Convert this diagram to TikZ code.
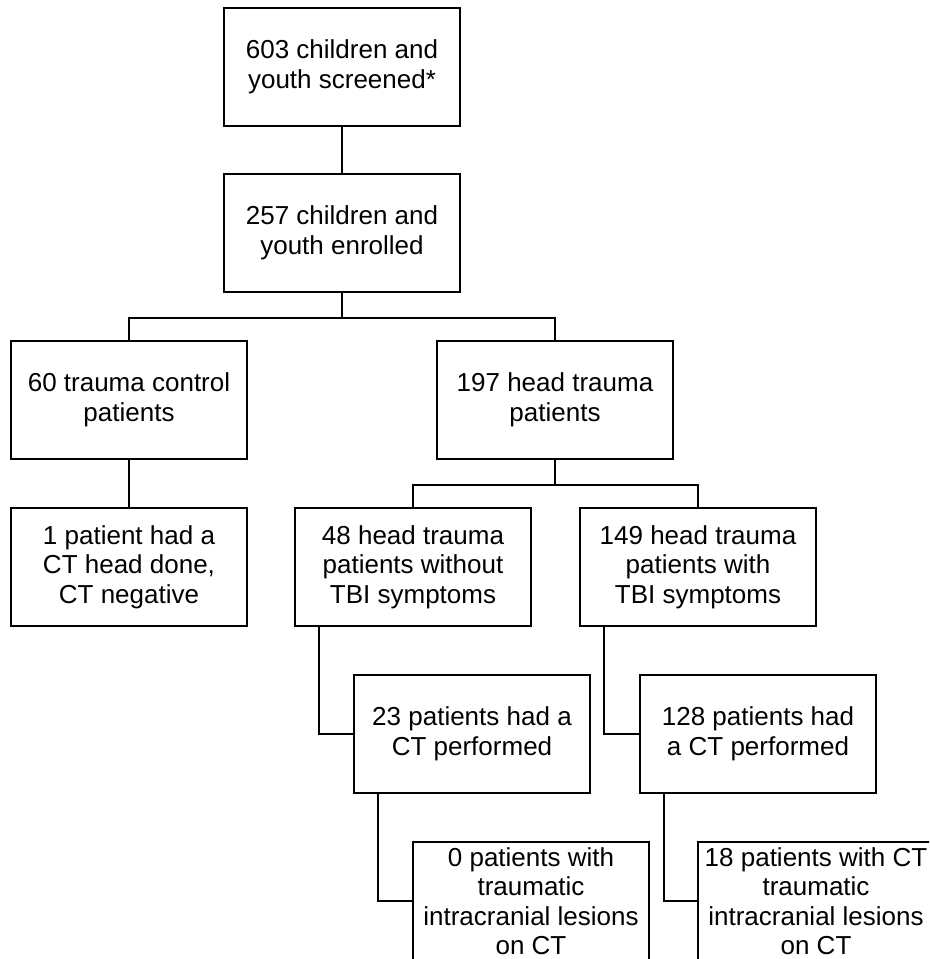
\documentclass[tikz,border=0pt]{standalone}
\usepackage{fontspec}
\setmainfont{Liberation Sans}
\tikzset{box/.style={draw,minimum width=4.72cm,minimum height=2.36cm,inner sep=0pt,align=center,font=\fontsize{14.8}{16.8}\selectfont}}

\begin{document}
\begin{tikzpicture}[x=0.02cm,y=-0.02cm,line width=1.2pt]
      \useasboundingbox (0,0) rectangle (929,959);
      \clip (0,0) rectangle (929,959);
      \node[box] (scr) at (342,67) {603 children and\\youth screened*};
      \node[box] (enr) at (342,233) {257 children and\\youth enrolled};
      \node[box] (ctl) at (129,400) {60 trauma control\\patients};
      \node[box] (head) at (555,400) {197 head trauma\\patients};
      \node[box] (ct0) at (129,567) {1 patient had a\\CT head done,\\CT negative};
      \node[box] (nosym) at (413,567) {48 head trauma\\patients without\\TBI symptoms};
      \node[box] (sym) at (698,567) {149 head trauma\\patients with\\TBI symptoms};
      \node[box] (ct1) at (472,734) {23 patients had a\\CT performed};
      \node[box] (ct2) at (758,734) {128 patients had\\a CT performed};
      \node[box] (les1) at (531,901) {0 patients with\\traumatic\\intracranial lesions\\on CT};
      \node[box] (les2) at (816,901) {18 patients with CT\\traumatic\\intracranial lesions\\on CT};

\draw (scr) -- (enr);
\draw (ctl) -- (ct0);
\foreach \a/\b in {enr/ctl,enr/head,head/nosym,head/sym}
  \draw (\a.south) -- ++(0,25) -| (\b.north);
\foreach \a/\b in {nosym/ct1,sym/ct2,ct1/les1,ct2/les2}
  \draw (\a.south west) ++(25,0) |- (\b.west);
    \end{tikzpicture}
\end{document}
